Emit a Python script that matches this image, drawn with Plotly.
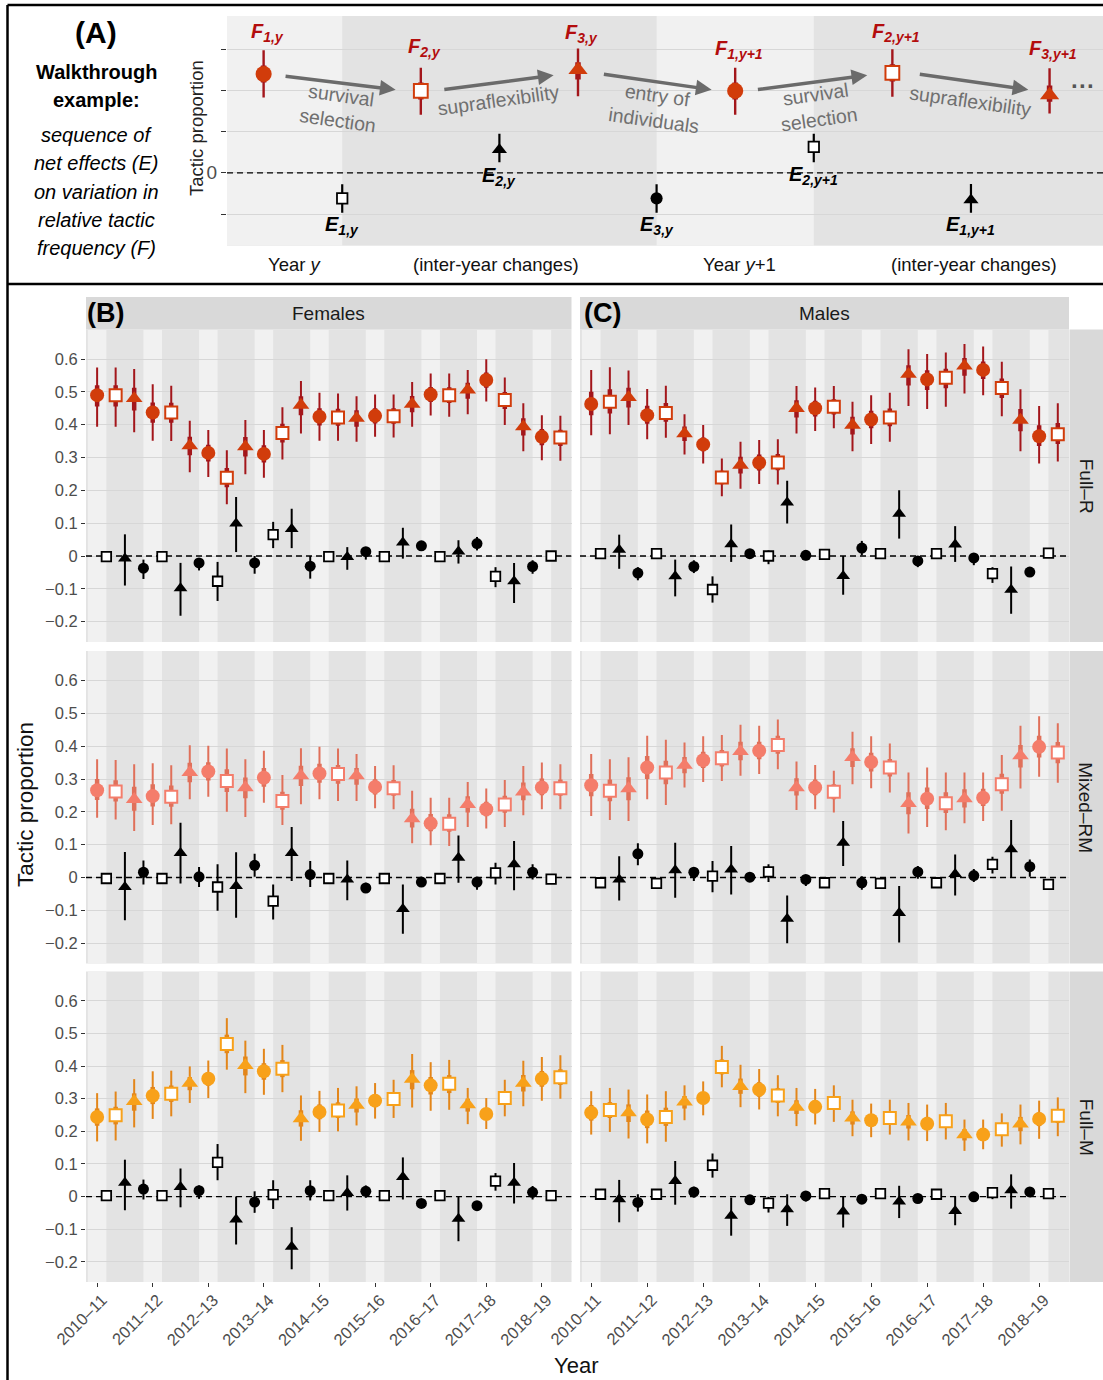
import plotly.graph_objects as go

W, H = 1103, 1380
FONT = "Liberation Sans, Arial, sans-serif"

# ---------------- data ----------------
years = ["2010–11", "2011–12", "2012–13", "2013–14", "2014–15",
         "2015–16", "2016–17", "2017–18", "2018–19"]
sexes = ["Females", "Males"]
tactics = ["Full–R", "Mixed–RM", "Full–M"]
y_ticks = [-0.2, -0.1, 0, 0.1, 0.2, 0.3, 0.4, 0.5, 0.6]
y_ticktext = ["−0.2", "−0.1", "0", "0.1", "0.2", "0.3", "0.4", "0.5", "0.6"]

# F = relative tactic frequency (F1 circle, F2 square, F3 triangle per year)
# E = net effects between successive F values (E1 square, E2 triangle, E3 circle)
fem_fullR_F = [0.490, 0.490, 0.480, 0.437, 0.437, 0.336, 0.314, 0.238, 0.333, 0.311, 0.375, 0.460, 0.424,
               0.422, 0.420, 0.427, 0.426, 0.463, 0.492, 0.490, 0.506, 0.536, 0.475, 0.394, 0.363, 0.361]
fem_fullR_F_hi = [0.574, 0.574, 0.570, 0.523, 0.519, 0.412, 0.384, 0.322, 0.414, 0.384, 0.453, 0.533, 0.497,
                  0.495, 0.487, 0.492, 0.492, 0.530, 0.556, 0.556, 0.567, 0.599, 0.544, 0.465, 0.429, 0.427]
fem_fullR_F_lo = [0.394, 0.394, 0.377, 0.351, 0.350, 0.255, 0.241, 0.158, 0.249, 0.238, 0.294, 0.373, 0.351,
                  0.351, 0.348, 0.363, 0.361, 0.394, 0.428, 0.424, 0.432, 0.471, 0.399, 0.319, 0.292, 0.290]
fem_fullR_E = [-0.002, -0.008, -0.037, -0.002, -0.098, -0.021, -0.077, 0.099, -0.021, 0.065, 0.082, -0.031, -0.002,
               -0.003, 0.013, -0.002, 0.041, 0.031, -0.002, 0.014, 0.038, -0.062, -0.077, -0.032, 0.000]
fem_fullR_E_hi = [0.004, 0.066, -0.011, 0.004, -0.021, -0.008, -0.018, 0.180, 0.000, 0.104, 0.144, 0.000, 0.004,
                  0.027, 0.027, 0.004, 0.086, 0.040, 0.004, 0.048, 0.058, -0.034, -0.021, -0.013, 0.005]
fem_fullR_E_lo = [-0.008, -0.090, -0.070, -0.008, -0.182, -0.044, -0.137, 0.012, -0.054, 0.024, 0.024, -0.069, -0.008,
                  -0.042, -0.011, -0.008, -0.008, 0.017, -0.008, -0.023, 0.017, -0.095, -0.143, -0.054, -0.005]

male_fullR_F = [0.463, 0.470, 0.483, 0.429, 0.436, 0.373, 0.340, 0.239, 0.277, 0.284, 0.285, 0.450, 0.450,
                0.455, 0.399, 0.416, 0.422, 0.554, 0.538, 0.543, 0.579, 0.567, 0.512, 0.414, 0.365, 0.371]
male_fullR_F_hi = [0.567, 0.575, 0.565, 0.509, 0.519, 0.432, 0.399, 0.297, 0.348, 0.353, 0.356, 0.518, 0.513,
                   0.518, 0.470, 0.490, 0.497, 0.630, 0.615, 0.620, 0.646, 0.638, 0.592, 0.508, 0.457, 0.465]
male_fullR_F_lo = [0.368, 0.371, 0.399, 0.356, 0.360, 0.309, 0.282, 0.182, 0.205, 0.219, 0.218, 0.373, 0.381,
                   0.389, 0.319, 0.341, 0.348, 0.457, 0.448, 0.455, 0.495, 0.490, 0.426, 0.319, 0.282, 0.288]
male_fullR_E = [0.007, 0.019, -0.052, 0.007, -0.062, -0.032, -0.102, 0.036, 0.007, 0.000, 0.163, 0.002, 0.005,
                -0.061, 0.024, 0.007, 0.129, -0.015, 0.007, 0.035, -0.006, -0.054, -0.103, -0.049, 0.009]
male_fullR_E_hi = [0.012, 0.065, -0.034, 0.012, -0.011, -0.013, -0.062, 0.096, 0.012, 0.017, 0.229, 0.017, 0.010,
                   0.000, 0.046, 0.012, 0.200, 0.000, 0.012, 0.091, 0.009, -0.034, -0.032, -0.044, 0.014]
male_fullR_E_lo = [0.002, -0.039, -0.074, 0.002, -0.123, -0.052, -0.142, -0.018, 0.002, -0.025, 0.099, -0.013, 0.000,
                   -0.118, 0.002, 0.002, 0.053, -0.034, 0.002, -0.018, -0.028, -0.082, -0.176, -0.054, 0.004]

fem_mixed_F = [0.266, 0.262, 0.238, 0.248, 0.246, 0.320, 0.323, 0.294, 0.274, 0.304, 0.233, 0.310, 0.317,
               0.315, 0.310, 0.276, 0.272, 0.179, 0.165, 0.164, 0.223, 0.208, 0.222, 0.261, 0.274, 0.272]
fem_mixed_F_hi = [0.360, 0.358, 0.345, 0.348, 0.342, 0.403, 0.401, 0.393, 0.360, 0.386, 0.312, 0.394, 0.398,
                  0.393, 0.376, 0.340, 0.342, 0.264, 0.243, 0.243, 0.291, 0.271, 0.297, 0.340, 0.350, 0.345]
fem_mixed_F_lo = [0.182, 0.177, 0.142, 0.160, 0.162, 0.238, 0.246, 0.200, 0.184, 0.228, 0.160, 0.223, 0.238,
                  0.233, 0.233, 0.211, 0.208, 0.104, 0.098, 0.096, 0.154, 0.149, 0.154, 0.190, 0.208, 0.208]
fem_mixed_E = [-0.003, -0.029, 0.016, -0.003, 0.075, 0.002, -0.029, -0.026, 0.037, -0.072, 0.075, 0.009, -0.003,
               -0.006, -0.032, -0.003, -0.096, -0.014, -0.003, 0.060, -0.014, 0.014, 0.040, 0.016, -0.005]
fem_mixed_E_hi = [0.002, 0.078, 0.052, 0.002, 0.167, 0.032, 0.040, 0.077, 0.072, -0.021, 0.154, 0.050, 0.002,
                  0.052, -0.016, 0.002, -0.021, -0.001, 0.002, 0.128, -0.001, 0.045, 0.111, 0.040, 0.000]
fem_mixed_E_lo = [-0.008, -0.130, -0.021, -0.008, -0.018, -0.029, -0.101, -0.123, 0.002, -0.128, -0.011, -0.029, -0.008,
                  -0.069, -0.045, -0.008, -0.171, -0.026, -0.008, -0.016, -0.037, -0.021, -0.039, -0.006, -0.010]

male_mixed_F = [0.281, 0.264, 0.271, 0.335, 0.320, 0.342, 0.357, 0.363, 0.384, 0.386, 0.404, 0.274, 0.274,
                0.261, 0.366, 0.352, 0.335, 0.226, 0.240, 0.226, 0.240, 0.243, 0.284, 0.371, 0.398, 0.381]
male_mixed_F_hi = [0.376, 0.360, 0.366, 0.432, 0.420, 0.411, 0.430, 0.434, 0.465, 0.462, 0.481, 0.353, 0.343,
                   0.325, 0.444, 0.430, 0.408, 0.320, 0.335, 0.320, 0.320, 0.320, 0.373, 0.462, 0.491, 0.470]
male_mixed_F_lo = [0.187, 0.175, 0.172, 0.238, 0.221, 0.274, 0.291, 0.294, 0.310, 0.315, 0.330, 0.206, 0.208,
                   0.198, 0.284, 0.272, 0.259, 0.134, 0.154, 0.144, 0.165, 0.172, 0.203, 0.271, 0.307, 0.289]
male_mixed_E = [-0.016, -0.006, 0.072, -0.018, 0.022, 0.016, 0.004, 0.024, 0.001, 0.017, -0.126, -0.006, -0.016,
                0.106, -0.016, -0.018, -0.108, 0.017, -0.016, 0.011, 0.006, 0.040, 0.086, 0.033, -0.021]
male_mixed_E_hi = [-0.011, 0.065, 0.104, -0.013, 0.106, 0.030, 0.050, 0.096, 0.006, 0.040, -0.055, 0.006, -0.011,
                   0.172, 0.004, -0.013, -0.026, 0.035, -0.011, 0.070, 0.026, 0.063, 0.175, 0.055, -0.016]
male_mixed_E_lo = [-0.021, -0.070, 0.037, -0.023, -0.062, -0.011, -0.045, -0.052, -0.004, -0.014, -0.200, -0.026, -0.021,
                   0.035, -0.037, -0.023, -0.198, -0.004, -0.021, -0.055, -0.014, 0.012, 0.000, 0.002, -0.026]

fem_fullM_F = [0.244, 0.249, 0.292, 0.309, 0.315, 0.348, 0.361, 0.468, 0.402, 0.384, 0.392, 0.239, 0.259,
               0.264, 0.280, 0.294, 0.299, 0.360, 0.341, 0.346, 0.282, 0.253, 0.302, 0.348, 0.361, 0.366]
fem_fullM_F_hi = [0.317, 0.322, 0.360, 0.384, 0.386, 0.399, 0.417, 0.547, 0.478, 0.453, 0.465, 0.310, 0.324,
                  0.333, 0.338, 0.348, 0.358, 0.437, 0.412, 0.419, 0.333, 0.302, 0.358, 0.416, 0.428, 0.433]
fem_fullM_F_lo = [0.169, 0.172, 0.212, 0.238, 0.246, 0.287, 0.302, 0.389, 0.317, 0.312, 0.320, 0.171, 0.198,
                  0.200, 0.218, 0.239, 0.241, 0.273, 0.263, 0.266, 0.222, 0.207, 0.246, 0.277, 0.294, 0.300]
fem_fullM_E = [0.003, 0.042, 0.023, 0.003, 0.029, 0.018, 0.105, -0.070, -0.017, 0.006, -0.154, 0.018, 0.003,
               0.011, 0.016, 0.003, 0.060, -0.021, 0.003, -0.068, -0.028, 0.047, 0.042, 0.013, 0.003]
fem_fullM_E_hi = [0.008, 0.113, 0.052, 0.008, 0.086, 0.034, 0.161, 0.000, 0.016, 0.050, -0.094, 0.050, 0.008,
                  0.065, 0.034, 0.008, 0.120, -0.009, 0.008, 0.000, -0.014, 0.072, 0.103, 0.032, 0.008]
fem_fullM_E_lo = [-0.002, -0.042, -0.009, -0.002, -0.033, -0.007, 0.050, -0.147, -0.050, -0.038, -0.223, -0.012, -0.002,
                  -0.043, -0.004, -0.002, -0.009, -0.035, -0.002, -0.137, -0.042, 0.018, -0.021, -0.009, -0.002]

male_fullM_F = [0.257, 0.265, 0.257, 0.236, 0.244, 0.290, 0.302, 0.397, 0.338, 0.328, 0.310, 0.274, 0.275,
                0.287, 0.241, 0.234, 0.241, 0.229, 0.223, 0.231, 0.190, 0.190, 0.206, 0.223, 0.238, 0.248]
male_fullM_F_hi = [0.323, 0.333, 0.328, 0.313, 0.323, 0.341, 0.353, 0.462, 0.404, 0.391, 0.372, 0.333, 0.330,
                   0.341, 0.297, 0.285, 0.297, 0.287, 0.282, 0.287, 0.236, 0.236, 0.255, 0.282, 0.294, 0.304]
male_fullM_F_lo = [0.190, 0.198, 0.178, 0.163, 0.168, 0.234, 0.249, 0.335, 0.274, 0.267, 0.246, 0.216, 0.221,
                   0.229, 0.185, 0.182, 0.190, 0.172, 0.170, 0.175, 0.140, 0.145, 0.153, 0.160, 0.177, 0.185]
male_fullM_E = [0.007, -0.008, -0.018, 0.007, 0.048, 0.014, 0.096, -0.059, -0.010, -0.020, -0.039, 0.002, 0.009,
                -0.046, -0.008, 0.009, -0.015, -0.006, 0.007, -0.044, -0.001, 0.012, 0.019, 0.014, 0.009]
male_fullM_E_hi = [0.012, 0.051, 0.007, 0.012, 0.109, 0.030, 0.132, -0.003, -0.005, -0.001, 0.007, 0.017, 0.014,
                   0.000, -0.003, 0.014, 0.033, -0.001, 0.012, 0.000, 0.004, 0.022, 0.068, 0.019, 0.014]
male_fullM_E_lo = [0.002, -0.079, -0.046, 0.002, -0.025, -0.003, 0.058, -0.120, -0.015, -0.049, -0.090, -0.015, 0.004,
                   -0.095, -0.013, 0.004, -0.066, -0.011, 0.002, -0.088, -0.006, -0.008, -0.037, 0.009, 0.004]

# Walkthrough example (panel A, schematic units)
A_F_labels = ["1,y", "2,y", "3,y", "1,y+1", "2,y+1", "3,y+1"]
A_F_pos = [0, 2, 4, 6, 8, 10]
A_F_val = [2.40, 1.99, 2.50, 1.99, 2.43, 1.89]
A_F_hi = [2.98, 2.55, 3.02, 2.55, 3.00, 2.54]
A_F_lo = [1.83, 1.41, 1.86, 1.41, 1.85, 1.44]
A_E_labels = ["1,y", "2,y", "3,y", "2,y+1", "1,y+1"]
A_E_pos = [1, 3, 5, 7, 9]
A_E_val = [-0.62, 0.56, -0.62, 0.63, -0.66]
A_E_hi = [-0.28, 0.95, -0.28, 0.95, -0.27]
A_E_lo = [-0.97, 0.26, -0.97, 0.26, -0.97]
A_F_sym = ["circle", "square", "triangle-up", "circle", "square", "triangle-up"]
A_E_sym = ["square", "triangle-up", "circle", "square", "triangle-up"]

panel_data = {
    ("Full–R", "Females"): (fem_fullR_F, fem_fullR_F_lo, fem_fullR_F_hi, fem_fullR_E, fem_fullR_E_lo, fem_fullR_E_hi),
    ("Full–R", "Males"): (male_fullR_F, male_fullR_F_lo, male_fullR_F_hi, male_fullR_E, male_fullR_E_lo, male_fullR_E_hi),
    ("Mixed–RM", "Females"): (fem_mixed_F, fem_mixed_F_lo, fem_mixed_F_hi, fem_mixed_E, fem_mixed_E_lo, fem_mixed_E_hi),
    ("Mixed–RM", "Males"): (male_mixed_F, male_mixed_F_lo, male_mixed_F_hi, male_mixed_E, male_mixed_E_lo, male_mixed_E_hi),
    ("Full–M", "Females"): (fem_fullM_F, fem_fullM_F_lo, fem_fullM_F_hi, fem_fullM_E, fem_fullM_E_lo, fem_fullM_E_hi),
    ("Full–M", "Males"): (male_fullM_F, male_fullM_F_lo, male_fullM_F_hi, male_fullM_E, male_fullM_E_lo, male_fullM_E_hi),
}

# ---------------- style ----------------
tactic_colors = {"Full–R": ("#d13c0b", "#a3161b"),
                 "Mixed–RM": ("#f47d6b", "#e0705a"),
                 "Full–M": ("#f8a11a", "#e3861a")}
LIGHT = "#f1f1f1"
DARK = "#e3e3e3"
GRID = "#d7d7d7"
STRIP = "#d9d9d9"
INNER = 0.36   # thick inner segment drawn as a fraction of the interval


def px(x):
    return x / W


def py(y):
    return 1 - y / H


def seg(xs, lo, hi):
    X, Y = [], []
    for x, a, b in zip(xs, lo, hi):
        X += [x, x, None]
        Y += [a, b, None]
    return X, Y


def inner(v, lo, hi):
    return ([a - INNER * (a - l) for a, l in zip(v, lo)],
            [a + INNER * (h - a) for a, h in zip(v, hi)])


def f_marker(syms, fill, size_scale=1.0):
    sizes = {"circle": 14, "square": 12, "triangle-up": 14.5}
    return dict(symbol=syms,
                size=[sizes[s] * size_scale for s in syms],
                color=["white" if s == "square" else fill for s in syms],
                line=dict(color=fill, width=[2 if s == "square" else 0 for s in syms]),
                opacity=1)


def e_marker(syms, size_scale=1.0):
    sizes = {"circle": 11, "square": 9.5, "triangle-up": 12}
    return dict(symbol=syms,
                size=[sizes[s] * size_scale for s in syms],
                color=["white" if s == "square" else "black" for s in syms],
                line=dict(color="black", width=[1.8 if s == "square" else 0 for s in syms]),
                opacity=1)


def paper_text(x, y, text, size, color="black", angle=0):
    return dict(xref="paper", yref="paper", x=px(x), y=py(y), text=text, showarrow=False,
                xanchor="center", yanchor="middle", textangle=angle,
                font=dict(size=size, color=color, family=FONT))


def zero_line(xa, ya, xrange):
    return go.Scatter(x=[xrange[0], xrange[1]], y=[0, 0], xaxis=xa, yaxis=ya, mode="lines",
                      line=dict(color="black", width=1.3, dash="6px,4px"),
                      hoverinfo="skip", showlegend=False)


fig = go.Figure()
shapes = []
annotations = []
layout = {}

# ---------------- panel A ----------------
A_xr = [-0.466, 10.68]
A_yr = [-1.77, 3.81]
layout["xaxis"] = dict(domain=[px(227), px(1103)], range=A_xr, showgrid=False, zeroline=False,
                       showticklabels=False, ticks="", anchor="y", fixedrange=True, automargin=False)
layout["yaxis"] = dict(domain=[py(245.7), py(16)], range=A_yr, tickvals=[-1, 0, 1, 2, 3],
                       ticktext=["", "0", "", "", ""], ticks="outside", ticklen=5, tickcolor="#333",
                       showgrid=True, gridcolor=GRID, gridwidth=1.2, zeroline=False, anchor="x",
                       automargin=False,
                       tickfont=dict(size=19, color="#4d4d4d", family=FONT), fixedrange=True)
for a, b in [(A_xr[0], 1), (5, 7)]:
    shapes.append(dict(type="rect", xref="x", yref="y domain", x0=a, x1=b, y0=0, y1=1,
                       fillcolor=LIGHT, line=dict(width=0), layer="below"))
fig.add_trace(zero_line("x", "y", A_xr))
fcol, lcol = tactic_colors["Full–R"]
X, Y = seg(A_F_pos, A_F_lo, A_F_hi)
fig.add_trace(go.Scatter(x=X, y=Y, xaxis="x", yaxis="y", mode="lines",
                         line=dict(color=lcol, width=2.4), hoverinfo="skip", showlegend=False))
ilo, ihi = inner(A_F_val, A_F_lo, A_F_hi)
X, Y = seg(A_F_pos, ilo, ihi)
fig.add_trace(go.Scatter(x=X, y=Y, xaxis="x", yaxis="y", mode="lines",
                         line=dict(color=lcol, width=5.5), hoverinfo="skip", showlegend=False))
X, Y = seg(A_E_pos, A_E_lo, A_E_hi)
fig.add_trace(go.Scatter(x=X, y=Y, xaxis="x", yaxis="y", mode="lines",
                         line=dict(color="black", width=2.2), hoverinfo="skip", showlegend=False))
fig.add_trace(go.Scatter(x=A_E_pos, y=A_E_val, xaxis="x", yaxis="y", mode="markers",
                         marker=e_marker(A_E_sym, 1.1), hoverinfo="skip", showlegend=False))
fig.add_trace(go.Scatter(x=A_F_pos, y=A_F_val, xaxis="x", yaxis="y", mode="markers",
                         marker=f_marker(A_F_sym, fcol, 1.15), hoverinfo="skip", showlegend=False))

# F / E labels in panel A
F_lab_y = [3.42, 3.05, 3.38, 3.00, 3.42, 3.00]
for p, lab, yy in zip(A_F_pos, A_F_labels, F_lab_y):
    annotations.append(dict(xref="x", yref="y", x=p + 0.05, y=yy, showarrow=False,
                            xanchor="center", yanchor="middle",
                            text=f"<b><i>F<sub>{lab}</sub></i></b>",
                            font=dict(size=20, color="#b30d0d", family=FONT)))
E_lab_y = [-1.28, -0.08, -1.28, -0.07, -1.28]
for p, lab, yy in zip(A_E_pos, A_E_labels, E_lab_y):
    annotations.append(dict(xref="x", yref="y", x=p, y=yy, showarrow=False,
                            xanchor="center", yanchor="middle",
                            text=f"<b><i>E<sub>{lab}</sub></i></b>",
                            font=dict(size=20, color="black", family=FONT)))

# arrows (head x,y ; tail x,y) and process labels
arrows = [((1.68, 2.02), (0.26, 2.35)), ((3.69, 2.37), (2.28, 2.02)),
          ((5.70, 2.02), (4.31, 2.40)), ((7.68, 2.37), (6.27, 2.02)),
          ((9.73, 2.02), (8.33, 2.40))]
for (hx, hy), (tx, ty) in arrows:
    annotations.append(dict(xref="x", yref="y", axref="x", ayref="y", x=hx, y=hy, ax=tx, ay=ty,
                            text="", showarrow=True, arrowhead=2, arrowsize=0.9, arrowwidth=3.5,
                            arrowcolor="#6b6b6b"))
proc = [("survival<br>selection", 0.96, 1.58, 8), ("supraflexibility", 2.99, 1.78, -8),
        ("entry of<br>individuals", 4.99, 1.58, 8), ("survival<br>selection", 7.05, 1.60, -8),
        ("supraflexibility", 9.00, 1.74, 8)]
for t, xx, yy, ang in proc:
    annotations.append(dict(xref="x", yref="y", x=xx, y=yy, text=t, showarrow=False, textangle=ang,
                            xanchor="center", yanchor="middle",
                            font=dict(size=19.5, color="#707070", family=FONT)))
annotations.append(dict(xref="x", yref="y", x=10.42, y=2.12, text="<b>···</b>", showarrow=False,
                        xanchor="center", yanchor="middle",
                        font=dict(size=24, color="#555555", family=FONT)))

annotations.append(paper_text(196, 128, "Tactic proportion", 18.5, "#222", -90))
for t, xx in [("Year <i>y</i>", 295), ("(inter-year changes)", 496), ("Year <i>y</i>+1", 739),
              ("(inter-year changes)", 974)]:
    annotations.append(paper_text(xx, 265, t, 18.5, "#111"))

left_text = [("<b>(A)</b>", 33, 30), ("<b>Walkthrough</b>", 72, 20), ("<b>example:</b>", 100, 20),
             ("<i>sequence of</i>", 135, 20), ("<i>net effects (E)</i>", 163, 20),
             ("<i>on variation in</i>", 192, 20), ("<i>relative tactic</i>", 220, 20),
             ("<i>frequency (F)</i>", 248, 20)]
for t, yy, sz in left_text:
    annotations.append(paper_text(96, yy, t, sz))

# ---------------- facet panels ----------------
col_dom = [(86, 571.5), (580, 1069)]
row_dom = [(329.5, 642), (651, 963.5), (971.5, 1282)]
xr = [-0.6, 25.6]
yr = [-0.262, 0.690]
F_pos = list(range(26))
E_pos = [k + 0.5 for k in range(25)]
F_sym = [["circle", "square", "triangle-up"][k % 3] for k in range(26)]
E_sym = [["square", "triangle-up", "circle"][k % 3] for k in range(25)]
year_pos = [3 * i for i in range(len(years))]

n = 2
for r, tac in enumerate(tactics):
    for c, sex in enumerate(sexes):
        xa, ya = f"x{n}", f"y{n}"
        bottom = (r == len(tactics) - 1)
        layout[f"xaxis{n}"] = dict(domain=[px(col_dom[c][0]), px(col_dom[c][1])], range=xr, anchor=ya,
                                   showgrid=False, zeroline=False, tickvals=year_pos, ticktext=years,
                                   showticklabels=bottom, ticks="outside" if bottom else "", ticklen=4,
                                   tickcolor="#333", tickangle=-45, fixedrange=True, automargin=False,
                                   ticklabelshift=5, ticklabelstandoff=-3,
                                   tickfont=dict(size=16.5, color="#4d4d4d", family=FONT))
        layout[f"yaxis{n}"] = dict(domain=[py(row_dom[r][1]), py(row_dom[r][0])], range=yr, anchor=xa,
                                   tickvals=y_ticks, ticktext=y_ticktext, showticklabels=(c == 0),
                                   ticks="outside" if c == 0 else "", ticklen=4, tickcolor="#333",
                                   showgrid=True, gridcolor=GRID, gridwidth=1.2, zeroline=False,
                                   fixedrange=True, automargin=False,
                                   tickfont=dict(size=16.5, color="#4d4d4d", family=FONT))
        for i in range(len(years)):
            shapes.append(dict(type="rect", xref=xa, yref=f"{ya} domain", x0=max(3 * i - 0.5, xr[0]),
                               x1=3 * i + 0.5, y0=0, y1=1, fillcolor=LIGHT, line=dict(width=0),
                               layer="below"))
        fig.add_trace(zero_line(xa, ya, xr))

        Fv, Flo, Fhi, Ev, Elo, Ehi = panel_data[(tac, sex)]
        fcol, lcol = tactic_colors[tac]
        X, Y = seg(F_pos, Flo, Fhi)
        fig.add_trace(go.Scatter(x=X, y=Y, xaxis=xa, yaxis=ya, mode="lines",
                                 line=dict(color=lcol, width=2), hoverinfo="skip", showlegend=False))
        ilo, ihi = inner(Fv, Flo, Fhi)
        X, Y = seg(F_pos, ilo, ihi)
        fig.add_trace(go.Scatter(x=X, y=Y, xaxis=xa, yaxis=ya, mode="lines",
                                 line=dict(color=lcol, width=4.5), hoverinfo="skip", showlegend=False))
        X, Y = seg(E_pos, Elo, Ehi)
        fig.add_trace(go.Scatter(x=X, y=Y, xaxis=xa, yaxis=ya, mode="lines",
                                 line=dict(color="black", width=2), hoverinfo="skip", showlegend=False))
        fig.add_trace(go.Scatter(x=E_pos, y=Ev, xaxis=xa, yaxis=ya, mode="markers",
                                 marker=e_marker(E_sym), hoverinfo="skip", showlegend=False))
        fig.add_trace(go.Scatter(x=F_pos, y=Fv, xaxis=xa, yaxis=ya, mode="markers",
                                 marker=f_marker(F_sym, fcol), hoverinfo="skip", showlegend=False))
        n += 1

# strips
for c, sex in enumerate(sexes):
    shapes.append(dict(type="rect", xref="paper", yref="paper", x0=px(col_dom[c][0]), x1=px(col_dom[c][1]),
                       y0=py(329.5), y1=py(297), fillcolor=STRIP, line=dict(width=0), layer="below"))
    annotations.append(paper_text((col_dom[c][0] + col_dom[c][1]) / 2, 313, sex, 19, "#1a1a1a"))
for r, tac in enumerate(tactics):
    shapes.append(dict(type="rect", xref="paper", yref="paper", x0=px(1069.5), x1=1,
                       y0=py(row_dom[r][1]), y1=py(row_dom[r][0]), fillcolor=STRIP, line=dict(width=0),
                       layer="below"))
    annotations.append(paper_text(1086, (row_dom[r][0] + row_dom[r][1]) / 2, tac, 19, "#1a1a1a", 90))
annotations.append(paper_text(105, 313, "<b>(B)</b>", 27))
annotations.append(paper_text(602, 313, "<b>(C)</b>", 27))
annotations.append(paper_text(576, 1365, "Year", 22, "#111"))
annotations.append(paper_text(25, 805, "Tactic proportion", 22.5, "#111", -90))

# figure border lines
for x0, y0, x1, y1 in [(7.5, 5, 7.5, 1380), (7.5, 5, 1103, 5), (7.5, 284, 1103, 284)]:
    shapes.append(dict(type="line", xref="paper", yref="paper", x0=px(x0), x1=px(x1), y0=py(y0), y1=py(y1),
                       line=dict(color="black", width=2.5), layer="above"))

fig.update_layout(template="none", width=W, height=H, autosize=False, margin=dict(l=0, r=0, t=0, b=0),
                  paper_bgcolor="white", plot_bgcolor=DARK, showlegend=False,
                  font=dict(family=FONT), shapes=shapes, annotations=annotations, **layout)

fig.write_html("out.html", config={"displayModeBar": False},
               post_script="document.body.style.margin='0';")
